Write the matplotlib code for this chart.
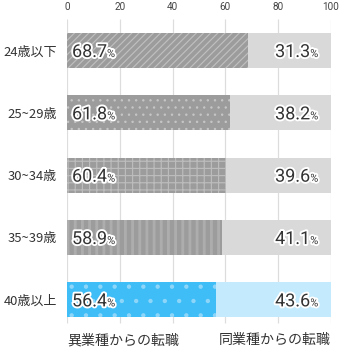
import matplotlib.pyplot as plt
import matplotlib.patheffects as pe

# --- DADOS ---
categorias = ['24歳以下', '25~29歳', '30~34歳', '35~39歳', '40歳以上']
outro_setor = [68.7, 61.8, 60.4, 58.9, 56.4]   # 異業種からの転職
mesmo_setor = [31.3, 38.2, 39.6, 41.1, 43.6]   # 同業種からの転職
ticks_x = [0, 20, 40, 60, 80, 100]
legenda_esq = '異業種からの転職'
legenda_dir = '同業種からの転職'

# --- ESTILO ---
DPI = 86
PX = 72 / DPI  # pixels -> pontos
plt.rcParams['font.family'] = ['Noto Sans CJK JP', 'DejaVu Sans']

# padrões de cada barra: (hatch, cor, cor do hatch, largura hatch, cor clara)
estilos = [
    ('////', '#9c9c9c', '#bfbfbf', 1.0, '#d9d9d9'),
    ('..', '#9c9c9c', '#c6c6c6', 0.8, '#d9d9d9'),
    ('++', '#9c9c9c', '#bcbcbc', 1.0, '#d9d9d9'),
    ('||', '#9c9c9c', '#adadad', 2.4, '#d9d9d9'),
    ('.', '#3fbdf7', '#8ed6f9', 1.2, '#c4ebfd'),
]

fig = plt.figure(figsize=(345 / DPI, 353 / DPI), dpi=DPI)
ax = fig.add_axes([67 / 345, 22 / 353, 264 / 345, 311.7 / 353])

# Linhas de grelha
ax.vlines(ticks_x, -0.5, 4.37, color='#dddddd', linewidth=1.2 * PX, zorder=0)

contorno = [pe.withStroke(linewidth=3.2, foreground='white')]
cor_txt = '#333333'

for i, (cat, a, b) in enumerate(zip(categorias, outro_setor, mesmo_setor)):
    hatch, cor, cor_h, lw_h, clara = estilos[i]
    with plt.rc_context({'hatch.linewidth': lw_h}):
        barras = ax.barh(i, a, height=0.56, color=cor, edgecolor=cor_h,
                         hatch=hatch, linewidth=0, zorder=2)
    for p in barras:
        if hasattr(p, 'set_hatch_linewidth'):
            p.set_hatch_linewidth(lw_h)
    ax.barh(i, b, left=a, height=0.56, color=clara, linewidth=0, zorder=2)

    y_base = i + 0.105
    # valor da esquerda
    t1 = ax.text(1.9, y_base, f'{a:.1f}', ha='left', va='baseline',
                 fontsize=18 * PX, family=['Roboto', 'DejaVu Sans'],
                 color=cor_txt, path_effects=contorno, zorder=5)
    ax.annotate('%', xy=(1, y_base), xycoords=(t1, 'data'), ha='left',
                va='baseline', fontsize=11 * PX, family=['Roboto', 'DejaVu Sans'],
                color=cor_txt, path_effects=contorno, zorder=5)
    # valor da direita
    t2 = ax.text(95.2, y_base, '%', ha='right', va='baseline',
                 fontsize=11 * PX, family=['Roboto', 'DejaVu Sans'],
                 color=cor_txt, path_effects=contorno, zorder=5)
    ax.annotate(f'{b:.1f}', xy=(0, y_base), xycoords=(t2, 'data'), ha='right',
                va='baseline', fontsize=18 * PX, family=['Roboto', 'DejaVu Sans'],
                color=cor_txt, path_effects=contorno, zorder=5)

ax.set_xlim(0, 100)
ax.set_ylim(4.5, -0.5)
ax.xaxis.tick_top()
ax.set_xticks(ticks_x)
ax.set_xticklabels([str(t) for t in ticks_x], family=['Roboto', 'DejaVu Sans'])
ax.tick_params(axis='x', length=0, pad=7 * PX, labelsize=10 * PX, labelcolor='#444444')
ax.set_yticks(range(len(categorias)))
ax.set_yticklabels(categorias)
ax.tick_params(axis='y', length=0, pad=10 * PX, labelsize=13 * PX, labelcolor=cor_txt)
for s in ax.spines.values():
    s.set_visible(False)

# Legendas em baixo
fig.text(67 / 345, 1 - 340 / 353, legenda_esq, ha='left', va='center',
         fontsize=14 * PX, color=cor_txt)
fig.text(331 / 345, 1 - 340 / 353, legenda_dir, ha='right', va='center',
         fontsize=14 * PX, color=cor_txt)

fig.savefig('out.png', dpi=DPI)
